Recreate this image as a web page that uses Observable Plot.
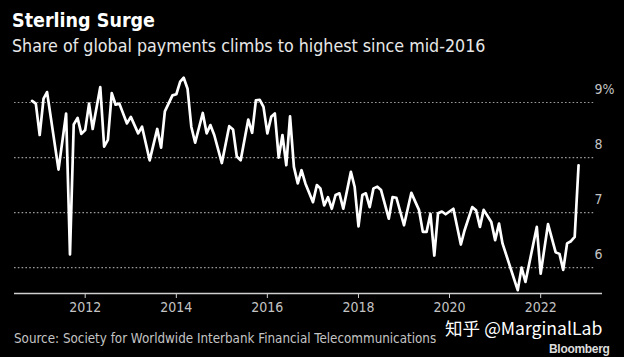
<!DOCTYPE html>
<html><head><meta charset="utf-8">
<script src="https://cdn.jsdelivr.net/npm/d3@7"></script>
<script src="https://cdn.jsdelivr.net/npm/@observablehq/plot@0.6"></script>
<style>
html,body{margin:0;padding:0;background:#000;width:624px;height:357px;overflow:hidden;}
body{position:relative;font-family:"DejaVu Sans Condensed","DejaVu Sans",sans-serif;}
#title{position:absolute;left:12px;top:9px;font-weight:bold;font-size:19.5px;color:#fff;white-space:nowrap;}
#subtitle{position:absolute;left:12px;top:36px;font-size:17.7px;color:#e8e8e8;white-space:nowrap;}
#chart{position:absolute;left:0;top:62px;}
#source{position:absolute;left:14px;top:331px;font-size:13.3px;color:#c4c4c4;white-space:nowrap;}
#wm{position:absolute;left:445px;top:319px;font-size:17.6px;line-height:18px;color:#fff;white-space:nowrap;font-family:"Noto Sans CJK SC","Noto Sans",sans-serif;}
#bb{position:absolute;left:549px;top:343px;font-size:12px;line-height:12px;font-weight:bold;color:#ddd;font-family:"Liberation Sans",Arial,sans-serif;letter-spacing:-0.3px;}
</style>
</head><body>
<div id="title">Sterling Surge</div>
<div id="subtitle">Share of global payments climbs to highest since mid-2016</div>
<div id="chart"></div>
<div id="source">Source: Society for Worldwide Interbank Financial Telecommunications</div>
<div id="wm">知乎 @MarginalLab</div>
<div id="bb">Bloomberg</div>
<script>
// Sterling share of global payments (%) (month, value)
const months = [
  "2010-11","2010-12","2011-01","2011-02","2011-03","2011-06","2011-08","2011-09","2011-10","2011-11","2011-12",
  "2012-01","2012-02","2012-03","2012-05","2012-06","2012-07","2012-08","2012-09","2012-10","2012-12",
  "2013-01","2013-03","2013-04","2013-06","2013-08","2013-09","2013-10","2013-12",
  "2014-01","2014-02","2014-03","2014-04","2014-05","2014-06","2014-08","2014-09","2014-10","2014-11",
  "2015-01","2015-03","2015-04","2015-05","2015-06","2015-08","2015-09","2015-10","2015-11","2015-12",
  "2016-01","2016-02","2016-03","2016-04","2016-05","2016-06","2016-07","2016-08","2016-09","2016-10","2016-11",
  "2017-01","2017-02","2017-03","2017-04","2017-05","2017-06","2017-07","2017-08","2017-09","2017-11","2017-12",
  "2018-01","2018-02","2018-03","2018-04","2018-05","2018-06","2018-07","2018-09","2018-10","2018-11",
  "2019-01","2019-03","2019-04","2019-05","2019-06","2019-07","2019-08","2019-09","2019-10","2019-11","2019-12",
  "2020-02","2020-04","2020-05","2020-07","2020-08","2020-09","2020-10","2020-12",
  "2021-01","2021-02","2021-03","2021-07","2021-08","2021-09","2021-12",
  "2022-01","2022-03","2022-05","2022-06","2022-07","2022-08","2022-09","2022-10","2022-11"
];
const shares = [
  9.03,8.98,8.41,9.07,9.19,7.78,8.80,6.24,8.60,8.72,8.43,
  8.50,8.98,8.52,9.28,8.20,8.32,9.17,8.96,8.98,8.62,
  8.74,8.44,8.56,7.95,8.52,8.18,8.84,9.13,
  9.15,9.38,9.45,9.25,8.56,8.27,8.81,8.44,8.59,8.41,
  7.90,8.57,8.51,8.02,7.95,8.69,8.45,9.04,9.05,8.92,
  8.44,8.74,8.80,8.00,8.41,7.86,8.75,7.83,7.53,7.77,7.53,
  7.19,7.50,7.44,7.13,7.28,7.07,7.32,7.35,7.07,7.74,7.47,
  6.75,7.32,7.35,7.10,7.44,7.47,7.41,6.89,7.28,7.27,
  6.77,7.36,7.20,7.05,6.65,6.65,6.98,6.22,6.99,7.02,6.97,
  7.07,6.42,6.68,7.10,7.04,6.74,7.05,6.83,
  6.50,6.80,6.44,5.59,6.00,5.74,6.74,
  5.89,6.79,6.28,6.25,5.96,6.44,6.48,6.56,7.86
];
const yTicks = [6, 7, 8, 9];
const yTickLabels = ["6", "7", "8", "9%"];
const xTickYears = [2012, 2014, 2016, 2018, 2020, 2022];

const parse = d3.utcParse("%Y-%m");
const data = months.map((m, i) => ({date: parse(m), share: shares[i]}));
const xStart = new Date(Date.UTC(2010, 5, 13));
const xEnd = new Date(Date.UTC(2023, 4, 12));
const gridEnd = new Date(Date.UTC(2023, 2, 16));
const yMin = 5.53, yMax = 9.6;
const xTickDates = xTickYears.map(y => new Date(Date.UTC(y, 0, 1)));

const chart = Plot.plot({
  width: 624,
  height: 262,
  marginLeft: 14,
  marginRight: 22,
  marginTop: 7,
  marginBottom: 31,
  style: {background: "#000", color: "#c4c4c4", fontFamily: "'DejaVu Sans Condensed','DejaVu Sans',sans-serif", fontSize: "14px"},
  x: {type: "utc", domain: [xStart, xEnd]},
  y: {domain: [yMin, yMax]},
  marks: [
    Plot.ruleY(yTicks, {x1: xStart, x2: gridEnd, stroke: "#9a9a9a", strokeWidth: 1.2, strokeDasharray: "1.6,2.2"}),
    Plot.ruleY([yMin], {stroke: "#cfcfcf", strokeWidth: 1.5}),
    Plot.axisX(xTickDates, {tickSize: 5, tickPadding: 4, stroke: "#cfcfcf", fill: "#c4c4c4", fontSize: 14, tickFormat: d => String(d.getUTCFullYear()), label: null}),
    Plot.axisY({ticks: [], label: null}),
    Plot.text(yTicks, {x: () => xEnd, y: d => d, text: (d, i) => yTickLabels[i], dx: -8, dy: -13, textAnchor: "start", fill: "#c4c4c4", fontSize: 14}),
    Plot.line(data, {x: "date", y: "share", stroke: "#fff", strokeWidth: 2.7, strokeLinejoin: "round", strokeLinecap: "round"})
  ]
});
document.getElementById("chart").appendChild(chart);
</script>
</body></html>
